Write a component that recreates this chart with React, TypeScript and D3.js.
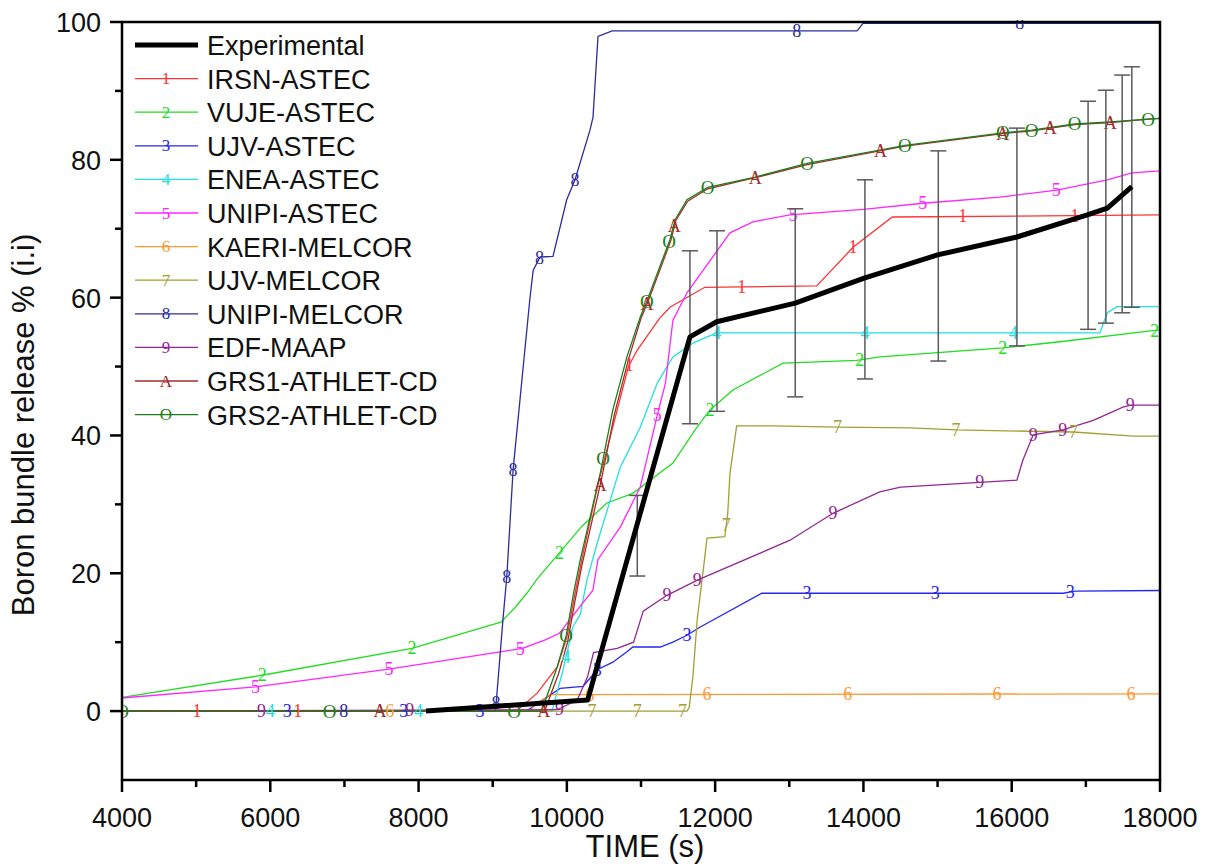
import React from "react";
import * as d3 from "d3";

const W = 1210;
const H = 866;
const PLOT = { left: 122, right: 1160, top: 22, bottom: 780 };

// axis ticks
const xMajor = [4000, 6000, 8000, 10000, 12000, 14000, 16000, 18000];
const xMinor = [5000, 7000, 9000, 11000, 13000, 15000, 17000];
const yMajor = [0, 20, 40, 60, 80, 100];
const yMinor = [10, 30, 50, 70, 90];

// Experimental
const experimental: [number, number][] = [
  [8100, 0], [10280, 1.6], [11660, 54.3], [12020, 56.5], [13080, 59.2], [14000, 62.8],
  [15000, 66.2], [16070, 68.8], [17020, 72.0], [17290, 73.0], [17620, 76.1],
];
const errTime = [10950, 11660, 12025, 13080, 14020, 15010, 16070, 17030, 17270, 17490, 17620];
const errHigh = [31.3, 66.8, 69.7, 72.9, 77.1, 81.3, 84.6, 88.5, 90.1, 92.3, 93.5];
const errLow = [19.6, 41.7, 43.5, 45.6, 48.2, 50.8, 53.0, 55.4, 56.3, 57.8, 58.6];

// Code results
const irsnAstec: [number, number][] = [
  [4000, 0], [9330, 0.1], [9600, 2.6], [9870, 6.4], [10000, 10.7], [10100, 16.5], [10200, 21.9],
  [10410, 32.5], [10830, 50], [10950, 52.4], [11250, 57], [11390, 58.6], [11860, 61.5],
  [13370, 61.7], [13860, 67.3], [14390, 71.7], [18000, 72.0],
];
const irsnMarks = [5010, 6370, 10840, 12360, 13860, 15340, 16850];

const vujeAstec: [number, number][] = [
  [4000, 2.0], [5890, 5.2], [7910, 9.1], [9110, 12.9], [9300, 15.0], [9460, 17.1], [9600, 19.2],
  [9910, 23.1], [10200, 26.8], [10540, 30.2], [10890, 31.6], [11430, 36], [11755, 41.2],
  [11930, 43.7], [12240, 46.6], [12915, 50.5], [13910, 50.9], [14220, 51.4], [15880, 52.7],
  [16650, 53.6], [17900, 55.2], [18000, 55.3],
];
const vujeMarks = [5890, 7910, 9900, 11930, 13950, 15880, 17930];

const ujvAstec: [number, number][] = [
  [4000, 0], [9450, 0], [9540, 0.6], [9730, 2.0], [9910, 3.3], [10220, 3.6], [10410, 6.0],
  [10620, 7.1], [10810, 8.6], [10890, 9.3], [11260, 9.3], [11430, 10.0], [11620, 11.0],
  [11800, 12.2], [12630, 17.1], [16700, 17.1], [16850, 17.4], [18000, 17.5],
];
const ujvAstecMarks = [6230, 7800, 8830, 10410, 11620, 13240, 14970, 16790];

const eneaAstec: [number, number][] = [
  [4000, 0], [9800, 0], [9950, 6], [10080, 12.2], [10180, 14], [10270, 19], [10410, 24.4],
  [10720, 35.4], [10990, 41.2], [11220, 47.6], [11430, 51.4], [11700, 53.4], [11890, 54.3],
  [12030, 54.9], [17190, 54.9], [17290, 57.8], [17420, 58.7], [18000, 58.7],
];
const eneaMarks = [6000, 8000, 9990, 12020, 14020, 16020];

const unipiAstec: [number, number][] = [
  [4000, 1.9], [5800, 3.5], [7600, 6.1], [9100, 8.6], [9400, 9.1], [9700, 10.3], [9900, 11.3],
  [10200, 15.5], [10350, 17.5], [10420, 22], [10720, 26.7], [10990, 32.5], [11220, 43],
  [11330, 47.6], [11430, 56.7], [11620, 60.7], [12200, 69.4], [12510, 71], [13010, 72],
  [14000, 72.8], [14800, 73.7], [15840, 74.6], [16610, 75.6], [17290, 77.1], [17620, 78.1],
  [18000, 78.4],
];
const unipiAstecMarks = [5800, 7600, 9370, 11220, 13050, 14800, 16600];

const kaeriMelcor: [number, number][] = [
  [4000, 0], [9500, 0], [9600, 1.2], [9780, 2.4], [18000, 2.5],
];
const kaeriMarks = [7610, 10310, 11890, 13790, 15800, 17610];

const ujvMelcor: [number, number][] = [
  [4000, 0], [11620, 0], [11650, 0.5], [11700, 5], [11760, 13.5], [11840, 20.5], [11890, 25.1],
  [12130, 25.3], [12170, 28.7], [12200, 34.5], [12290, 41.4], [12780, 41.4], [13650, 41.2],
  [14630, 41.1], [15260, 40.8], [16830, 40.5], [17640, 39.9], [18000, 39.9],
];
const ujvMelcorMarks = [10340, 10950, 11560, 12150, 13650, 15250, 16830];

const unipiMelcor: [number, number][] = [
  [4000, 0], [9030, 0], [9050, 1.6], [9140, 13.5], [9190, 19.5], [9275, 35], [9500, 59.7],
  [9546, 64], [9640, 65.9], [9813, 66.0], [9998, 74.2], [10110, 77.1], [10312, 84.3],
  [10353, 86.2], [10420, 97.9], [10610, 98.7], [13914, 98.7], [13995, 99.8], [18000, 99.8],
];
const unipiMelcorMarks = [6990, 9045, 9190, 9275, 9630, 10110, 13100, 16110];

const edfMaap: [number, number][] = [
  [4000, 0], [9870, 0.2], [10140, 1.6], [10280, 5], [10360, 8.5], [10680, 9.1], [10900, 10],
  [11030, 14.5], [11350, 16.8], [11760, 19.0], [13010, 24.8], [13590, 28.7], [14220, 31.8],
  [14500, 32.5], [15570, 33.2], [16070, 33.5], [16150, 36.4], [16290, 40.1], [16690, 40.8],
  [17100, 42.2], [17500, 44.1], [17600, 44.4], [18000, 44.4],
];
const edfMarks = [5880, 7880, 9900, 11350, 11760, 13590, 15570, 16290, 16690, 17600];

const grs1Athlet: [number, number][] = [
  [4000, 0], [9700, 0], [9890, 5.5], [10010, 10], [10110, 16], [10200, 21], [10470, 33.8],
  [10640, 43], [10830, 51], [11000, 57], [11090, 59.3], [11400, 68.2], [11470, 71.2],
  [11630, 74.0], [11900, 75.8], [12540, 77.4], [13240, 79.3], [14220, 81.3], [14560, 82.0],
  [15880, 83.8], [16270, 84.2], [16850, 85.1], [17330, 85.4], [17840, 85.9], [18000, 86.0],
];
const grs1Marks = [7480, 9690, 10450, 11080, 11450, 12540, 14230, 15880, 16520, 17330];

const grs2Athlet: [number, number][] = [
  [4000, 0], [9660, 0], [9870, 6.4], [9990, 10.9], [10090, 17.1], [10180, 21.9], [10450, 34.5],
  [10620, 43.7], [10810, 51.4], [10990, 57.2], [11080, 59.5], [11390, 68.4], [11460, 71.3],
  [11620, 74.2], [11900, 76], [12540, 77.5], [13240, 79.5], [14220, 81.4], [14560, 82.1],
  [15880, 83.9], [16270, 84.3], [16850, 85.2], [17330, 85.5], [17840, 85.9], [18000, 86.0],
];
const grs2Marks = [4000, 6800, 9290, 9990, 10490, 11080, 11380, 11900, 13240, 14560, 15880, 16270, 16850, 17840];

const seriesNames = [
  "IRSN-ASTEC", "VUJE-ASTEC", "UJV-ASTEC", "ENEA-ASTEC", "UNIPI-ASTEC", "KAERI-MELCOR",
  "UJV-MELCOR", "UNIPI-MELCOR", "EDF-MAAP", "GRS1-ATHLET-CD", "GRS2-ATHLET-CD",
];
const seriesSymbols = ["1", "2", "3", "4", "5", "6", "7", "8", "9", "A", "O"];
const seriesColors = [
  "#ff3333", "#22dd22", "#2626ee", "#22e0e0", "#ff26ff", "#ff9933",
  "#a3a033", "#2c2c9c", "#922892", "#a52a2a", "#1c7f1c",
];
const seriesData = [
  irsnAstec, vujeAstec, ujvAstec, eneaAstec, unipiAstec, kaeriMelcor,
  ujvMelcor, unipiMelcor, edfMaap, grs1Athlet, grs2Athlet,
];
const seriesMarks = [
  irsnMarks, vujeMarks, ujvAstecMarks, eneaMarks, unipiAstecMarks, kaeriMarks,
  ujvMelcorMarks, unipiMelcorMarks, edfMarks, grs1Marks, grs2Marks,
];

const SANS = "'Liberation Sans', Arial, sans-serif";
const SERIF = "'Liberation Serif', 'Times New Roman', serif";

function interp(pts: [number, number][], t: number): number {
  const i = d3.bisector((d: [number, number]) => d[0]).left(pts, t);
  if (i <= 0) return pts[0][1];
  if (i >= pts.length) return pts[pts.length - 1][1];
  const [t0, v0] = pts[i - 1];
  const [t1, v1] = pts[i];
  if (t1 === t0) return v1;
  return v0 + ((t - t0) / (t1 - t0)) * (v1 - v0);
}

export default function App() {
  const x = d3.scaleLinear().domain([4000, 18000]).range([PLOT.left, PLOT.right]);
  const y = d3.scaleLinear().domain([-10, 100]).range([PLOT.bottom, PLOT.top]);
  const line = d3
    .line<[number, number]>()
    .x((d) => x(d[0]))
    .y((d) => y(d[1]));

  const legendY0 = 45;
  const legendStep = 33.6;

  return (
    <svg
      width={W}
      height={H}
      style={{ position: "absolute", left: 0, top: 0, background: "#fff" }}
    >
      <rect x={0} y={0} width={W} height={H} fill="#fff" />
      <defs>
        <clipPath id="plotclip">
          <rect x={PLOT.left} y={PLOT.top - 2} width={PLOT.right - PLOT.left} height={PLOT.bottom - PLOT.top + 2} />
        </clipPath>
      </defs>

      {/* series lines */}
      <g clipPath="url(#plotclip)">
        {seriesData.map((pts, i) => (
          <path key={"l" + i} d={line(pts) || ""} fill="none" stroke={seriesColors[i]} strokeWidth={1.3} />
        ))}
        {seriesData.map((pts, i) => (
          <g key={"m" + i}>
            {seriesMarks[i].map((t, j) => (
              <text
                key={j}
                x={x(t)}
                y={y(interp(pts, t))}
                fill={seriesColors[i]}
                fontFamily={SERIF}
                fontSize={seriesSymbols[i] === "O" ? 19 : 18}
                textAnchor="middle"
                dominantBaseline="central"
              >
                {seriesSymbols[i]}
              </text>
            ))}
          </g>
        ))}
      </g>

      {/* error bars */}
      <g stroke="#5a5a5a" strokeWidth={1.5}>
        {errTime.map((t, i) => (
          <g key={"e" + i}>
            <line x1={x(t)} x2={x(t)} y1={y(errLow[i])} y2={y(errHigh[i])} />
            <line x1={x(t) - 8} x2={x(t) + 8} y1={y(errLow[i])} y2={y(errLow[i])} />
            <line x1={x(t) - 8} x2={x(t) + 8} y1={y(errHigh[i])} y2={y(errHigh[i])} />
          </g>
        ))}
      </g>

      {/* experimental */}
      <path d={line(experimental) || ""} fill="none" stroke="#000" strokeWidth={5} strokeLinejoin="round" />

      {/* frame */}
      <rect
        x={PLOT.left}
        y={PLOT.top}
        width={PLOT.right - PLOT.left}
        height={PLOT.bottom - PLOT.top}
        fill="none"
        stroke="#000"
        strokeWidth={2.5}
      />

      {/* axis ticks */}
      <g stroke="#000" strokeWidth={2.5}>
        {xMajor.map((t) => (
          <line key={"xt" + t} x1={x(t)} x2={x(t)} y1={PLOT.bottom} y2={PLOT.bottom + 12} />
        ))}
        {xMinor.map((t) => (
          <line key={"xm" + t} x1={x(t)} x2={x(t)} y1={PLOT.bottom} y2={PLOT.bottom + 7} />
        ))}
        {yMajor.map((v) => (
          <line key={"yt" + v} x1={PLOT.left - 12} x2={PLOT.left} y1={y(v)} y2={y(v)} />
        ))}
        {yMinor.map((v) => (
          <line key={"ym" + v} x1={PLOT.left - 7} x2={PLOT.left} y1={y(v)} y2={y(v)} />
        ))}
      </g>
      <g fontFamily={SANS} fontSize={27} fill="#111">
        {xMajor.map((t) => (
          <text key={"xl" + t} x={x(t)} y={827} textAnchor="middle">
            {t}
          </text>
        ))}
        {yMajor.map((v) => (
          <text key={"yl" + v} x={101} y={y(v) + 10} textAnchor="end">
            {v}
          </text>
        ))}
      </g>

      {/* axis titles */}
      <text x={645} y={857} textAnchor="middle" fontFamily={SANS} fontSize={31} fill="#111">
        TIME (s)
      </text>
      <text
        transform={`translate(34, 425) rotate(-90)`}
        textAnchor="middle"
        fontFamily={SANS}
        fontSize={31}
        fill="#111"
      >
        Boron bundle release % (i.i)
      </text>

      {/* legend */}
      <g fontFamily={SANS} fontSize={27} fill="#111">
        <line x1={135} x2={198} y1={legendY0} y2={legendY0} stroke="#000" strokeWidth={5} />
        <text x={207} y={legendY0 + 10}>Experimental</text>
        {seriesNames.map((name, i) => {
          const ly = legendY0 + legendStep * (i + 1);
          return (
            <g key={"lg" + i}>
              <line x1={135} x2={198} y1={ly} y2={ly} stroke={seriesColors[i]} strokeWidth={1.3} />
              <text
                x={166}
                y={ly}
                fill={seriesColors[i]}
                fontFamily={SERIF}
                fontSize={17}
                textAnchor="middle"
                dominantBaseline="central"
              >
                {seriesSymbols[i]}
              </text>
              <text x={207} y={ly + 10}>{name}</text>
            </g>
          );
        })}
      </g>
    </svg>
  );
}
